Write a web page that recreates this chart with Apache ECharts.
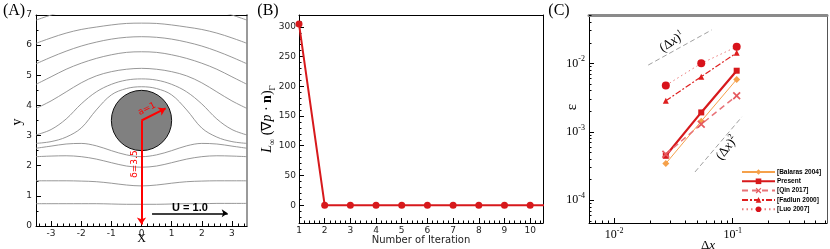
<!DOCTYPE html>
<html><head><meta charset="utf-8">
<script src="https://cdn.jsdelivr.net/npm/echarts@6/dist/echarts.min.js"></script>
<style>html,body{margin:0;padding:0;background:#fff}#c{width:830px;height:249px}</style>
</head><body><div id="c"></div>
<script>
// ---------- Panel A: streamlines around a cylinder near a wall ----------
const streamX = [-3.5,-3,-2.5,-2,-1.5,-1,-0.5,0,0.5,1,1.5,2,2.5,3,3.5];
const stream1  = [6.83,7.00,7.15,7.28,7.37,7.42,7.45,7.46,7.45,7.42,7.37,7.28,7.15,7.00,6.83];
const stream2  = [6.06,6.24,6.40,6.52,6.60,6.67,6.72,6.73,6.72,6.67,6.60,6.52,6.40,6.24,6.06];
const stream3  = [5.38,5.60,5.80,5.97,6.10,6.20,6.26,6.28,6.26,6.20,6.10,5.97,5.80,5.60,5.38];
const stream4  = [4.70,4.95,5.20,5.40,5.56,5.68,5.76,5.78,5.76,5.68,5.56,5.40,5.20,4.95,4.70];
const stream5  = [3.90,4.15,4.45,4.75,4.98,5.12,5.20,5.23,5.20,5.12,4.98,4.75,4.45,4.15,3.90];
const stream6  = [3.02,3.20,3.55,4.05,4.45,4.70,4.84,4.88,4.84,4.70,4.45,4.05,3.55,3.20,3.02];
const stream7  = [2.74,2.80,2.95,3.25,3.85,4.35,4.56,4.62,4.56,4.35,3.85,3.25,2.95,2.80,2.74];
const stream8  = [2.58,2.65,2.72,2.74,2.66,2.50,2.36,2.30,2.36,2.50,2.66,2.74,2.72,2.65,2.58];
const stream9  = [2.30,2.32,2.33,2.30,2.22,2.10,1.99,1.95,1.99,2.10,2.22,2.30,2.33,2.32,2.30];
const stream10 = [1.50,1.50,1.50,1.49,1.47,1.42,1.36,1.33,1.36,1.42,1.47,1.49,1.50,1.50,1.50];
const stream11 = [0.74,0.74,0.74,0.74,0.74,0.73,0.72,0.72,0.72,0.73,0.74,0.74,0.75,0.75,0.75];
const streams = [stream1,stream2,stream3,stream4,stream5,stream6,stream7,stream8,stream9,stream10,stream11];
const cylinder = [[0, 3.5, 1]];              // centre x, centre y, radius a
const radiusArrow = [[0, 3.5], [0.8, 3.9]];
const depthArrow  = [[0, 3.5], [0, 0.05]];
const flowArrow   = [[0.35, 0.42], [2.86, 0.42]];
const aXTicks = [-3,-2,-1,0,1,2,3];
const aYTicks = [0,1,2,3,4,5,6,7];

// ---------- Panel B: convergence ----------
const iterations = [1,2,3,4,5,6,7,8,9,10,11];
const residual   = [305,0,0,0,0,0,0,0,0,0,0];
const bXTicks = [1,2,3,4,5,6,7,8,9,10];
const bYTicks = [0,50,100,150,200,250,300];

// ---------- Panel C: error vs grid size ----------
const dx      = [0.0273, 0.0543, 0.108];
const balaras = [3.44e-4, 1.43e-3, 5.83e-3];
const present = [4.46e-4, 1.92e-3, 7.81e-3];
const qin     = [4.71e-4, 1.29e-3, 3.37e-3];
const fadlun  = [2.84e-3, 6.38e-3, 1.43e-2];
const luo     = [4.76e-3, 1.00e-2, 1.75e-2];
const slope1X = [0.0194, 0.0665], slope1Y = [0.00944, 0.0308];
const slope2X = [0.0481, 0.1194], slope2Y = [2.59e-4, 1.65e-3];
const cXTicks = [0.01, 0.1];
const cYTicks = [1e-4, 1e-3, 1e-2];
const legendNames = ['[Balaras 2004]','Present','[Qin 2017]','[Fadlun 2000]','[Luo 2007]'];

// minor tick positions
function range(a, b, s) { const r = []; for (let v = a; v <= b + 1e-9; v += s) r.push(+v.toFixed(6)); return r; }
const aXMinor = range(-3.4, 3.4, 0.2).filter(v => Math.abs(v - Math.round(v)) > 1e-6);
const aYMinor = range(0.5, 6.5, 1);
const bXMinor = range(1.2, 10.4, 0.2).filter(v => Math.abs(v - Math.round(v)) > 1e-6);
const bYMinor = range(-30, 320, 10).filter(v => v % 50 !== 0);
const cXMinor = [0.007,0.008,0.009,0.02,0.03,0.04,0.05,0.06,0.07,0.08,0.09,0.2,0.3,0.4,0.5,0.6];
const cYMinor = [5e-5,6e-5,7e-5,8e-5,9e-5,2e-4,3e-4,4e-4,5e-4,6e-4,7e-4,8e-4,9e-4,2e-3,3e-3,4e-3,5e-3,6e-3,7e-3,8e-3,9e-3,0.02,0.03,0.04,0.05];

const SANS = 'DejaVu Sans';
const SERIF = 'Liberation Serif';
const RED = '#d7191c';

function majorAxis(grid, type, min, max, ticks, pos, labelOpt, extra) {
  return Object.assign({
    gridIndex: grid, type, min, max, position: pos, nameMoveOverlap: false,
    splitLine: {show: false},
    axisLine: {show: true, onZero: false, lineStyle: {color: '#000', width: 1}},
    axisTick: {show: true, inside: true, length: 5, customValues: ticks, lineStyle: {color: '#000'}},
    axisLabel: Object.assign({show: true, customValues: ticks, fontFamily: SANS, fontSize: 9, color: '#222', margin: 4}, labelOpt || {})
  }, extra || {});
}
function minorAxis(grid, type, min, max, ticks, pos) {
  return {
    gridIndex: grid, type, min, max, position: pos,
    splitLine: {show: false},
    axisLine: {show: false, onZero: false},
    axisTick: {show: true, inside: true, length: 2.5, customValues: ticks, lineStyle: {color: '#000'}},
    axisLabel: {show: false}
  };
}
function borderAxis(grid, type, min, max, pos, color, width) {
  return {
    gridIndex: grid, type, min, max, position: pos,
    splitLine: {show: false},
    axisLine: {show: true, onZero: false, lineStyle: {color, width}},
    axisTick: {show: false}, axisLabel: {show: false}
  };
}
const logLabel = {
  formatter: v => '{b|10}{s|' + Math.round(Math.log10(v)) + '}',
  rich: {
    b: {fontFamily: SERIF, fontSize: 12, color: '#000', lineHeight: 16, verticalAlign: 'middle'},
    s: {fontFamily: SERIF, fontSize: 8, color: '#000', lineHeight: 8, verticalAlign: 'top'}
  },
  fontFamily: SERIF, fontSize: 12, color: '#000'
};

const xAxis = [
  majorAxis(0, 'value', -3.5, 3.5, aXTicks, 'bottom', {margin: 3},
    {name: 'X', nameLocation: 'middle', nameGap: 7, nameTextStyle: {fontFamily: SERIF, fontSize: 12, color: '#000'}}),
  minorAxis(0, 'value', -3.5, 3.5, aXMinor, 'bottom'),
  borderAxis(0, 'value', -3.5, 3.5, 'top', '#000', 1),
  majorAxis(1, 'value', 1, 10.5, bXTicks, 'bottom', {margin: 3},
    {name: 'Number of Iteration', nameLocation: 'middle', nameGap: 12, nameTextStyle: {fontFamily: SANS, fontSize: 10, color: '#222'}}),
  minorAxis(1, 'value', 1, 10.5, bXMinor, 'bottom'),
  borderAxis(1, 'value', 1, 10.5, 'top', '#000', 1),
  majorAxis(2, 'log', 0.00615, 0.623, cXTicks, 'bottom', Object.assign({margin: 4}, logLabel),
    {name: '{r|Δ}{i|x}', nameLocation: 'middle', nameGap: 16,
     nameTextStyle: {rich: {r: {fontFamily: SERIF, fontSize: 13, color: '#000'}, i: {fontFamily: SERIF, fontStyle: 'italic', fontSize: 13, color: '#000'}}}}),
  minorAxis(2, 'log', 0.00615, 0.623, cXMinor, 'bottom'),
  borderAxis(2, 'log', 0.00615, 0.623, 'top', '#8a8a8a', 3)
];
const yAxis = [
  majorAxis(0, 'value', 0, 7, aYTicks, 'left', {margin: 4}),
  minorAxis(0, 'value', 0, 7, aYMinor, 'left'),
  borderAxis(0, 'value', 0, 7, 'right', '#9a9a9a', 2),
  majorAxis(1, 'value', -30, 320, bYTicks, 'left', {margin: 3},
    {name: '{i|L}{sub|∞} {r|(∇}{i|p}{r| · }{bd|n}{r|)}{sub|Γ}', nameLocation: 'middle', nameRotate: 90, nameGap: 22,
     nameTextStyle: {rich: {
       i: {fontFamily: SERIF, fontStyle: 'italic', fontSize: 14, color: '#000', lineHeight: 20, verticalAlign: 'middle'},
       r: {fontFamily: SERIF, fontSize: 14, color: '#000', lineHeight: 20, verticalAlign: 'middle'},
       bd: {fontFamily: SERIF, fontWeight: 'bold', fontSize: 14, color: '#000', lineHeight: 20, verticalAlign: 'middle'},
       sub: {fontFamily: SERIF, fontSize: 9, color: '#000', lineHeight: 9, verticalAlign: 'bottom'}
     }}}),
  minorAxis(1, 'value', -30, 320, bYMinor, 'left'),
  borderAxis(1, 'value', -30, 320, 'right', '#000', 1),
  majorAxis(2, 'log', 4.65e-5, 0.0509, cYTicks, 'left', Object.assign({margin: 4}, logLabel)),
  minorAxis(2, 'log', 4.65e-5, 0.0509, cYMinor, 'left'),
  borderAxis(2, 'log', 4.65e-5, 0.0509, 'right', '#555', 1)
];

const series = [];
streams.forEach((s, k) => {
  series.push({
    type: 'line', xAxisIndex: 0, yAxisIndex: 0, silent: true, showSymbol: false, symbol: 'none',
    smooth: 0.35, data: streamX.map((x, i) => [x, s[i]]),
    lineStyle: {color: '#8c8c8c', width: 0.9}, z: 2
  });
});
series.push({
  type: 'custom', xAxisIndex: 0, yAxisIndex: 0, silent: true, z: 3, data: cylinder,
  renderItem: (params, api) => {
    const c = api.coord([api.value(0), api.value(1)]);
    const s = api.size([api.value(2), api.value(2)]);
    return {type: 'circle', shape: {cx: c[0], cy: c[1], r: (s[0] + s[1]) / 2},
      style: {fill: '#808080', stroke: '#111', lineWidth: 1}};
  }
});
series.push({
  type: 'lines', coordinateSystem: 'cartesian2d', xAxisIndex: 0, yAxisIndex: 0, silent: true, z: 5,
  symbol: ['none', 'arrow'], symbolSize: 7,
  data: [{coords: radiusArrow}, {coords: depthArrow}],
  lineStyle: {color: '#ff0000', width: 2, opacity: 1}
});
series.push({
  type: 'lines', coordinateSystem: 'cartesian2d', xAxisIndex: 0, yAxisIndex: 0, silent: true, z: 5,
  symbol: ['none', 'arrow'], symbolSize: 6,
  data: [{coords: flowArrow}],
  lineStyle: {color: '#000', width: 1.5, opacity: 1}
});
// Panel B
series.push({
  type: 'line', xAxisIndex: 3, yAxisIndex: 3, data: iterations.map((x, i) => [x, residual[i]]),
  symbol: 'circle', symbolSize: 7, showAllSymbol: true,
  lineStyle: {color: RED, width: 2}, itemStyle: {color: RED}, z: 3
});
// Panel C
function cSeries(name, ys, color, lineColor, width, type, symbol, size) {
  return {
    name, type: 'line', xAxisIndex: 6, yAxisIndex: 6, data: dx.map((x, i) => [x, ys[i]]),
    symbol, symbolSize: size, showAllSymbol: true,
    lineStyle: {color: lineColor, width, type}, itemStyle: {color}, z: 4
  };
}
const xPath = 'path://M0,1.5 L1.5,0 L5,3.5 L8.5,0 L10,1.5 L6.5,5 L10,8.5 L8.5,10 L5,6.5 L1.5,10 L0,8.5 L3.5,5 Z';
series.push(cSeries(legendNames[0], balaras, '#f5a14b', '#f5a14b', 1, 'solid', 'diamond', 7));
series.push(cSeries(legendNames[1], present, RED, RED, 2.2, 'solid', 'rect', 6));
series.push(cSeries(legendNames[2], qin, '#e55a5f', '#e87378', 1.5, [6, 4], xPath, 8));
series.push(cSeries(legendNames[3], fadlun, '#de1e1e', '#de1e1e', 1.2, [6, 2, 2, 2], 'triangle', 6));
series.push(cSeries(legendNames[4], luo, '#d8131b', '#ec7c7c', 1, [1.5, 3], 'circle', 8));
[[slope1X, slope1Y], [slope2X, slope2Y]].forEach(([xs, ys]) => {
  series.push({
    type: 'line', xAxisIndex: 6, yAxisIndex: 6, silent: true, symbol: 'none',
    data: xs.map((x, i) => [x, ys[i]]),
    lineStyle: {color: '#a0a0a0', width: 1, type: [5, 3]}, z: 2
  });
});

function txt(x, y, text, font, fill, rot, extra) {
  return Object.assign({type: 'text', x, y, rotation: rot || 0, z: 10, silent: true,
    style: Object.assign({text, font, fill, align: 'center', verticalAlign: 'middle', textAlign: 'center', textVerticalAlign: 'middle'}, extra || {})});
}
const graphic = [
  txt(14, 11, '(A)', '16px "Liberation Serif"', '#000'),
  txt(268, 11, '(B)', '16px "Liberation Serif"', '#000'),
  txt(559, 11, '(C)', '16px "Liberation Serif"', '#000'),
  txt(17, 122, 'y', '14px "Liberation Serif"', '#000', Math.PI / 2),
  txt(572, 107, 'ε', '15px "Liberation Serif"', '#000', Math.PI / 2),
  txt(147, 109, 'a=1', '9px "DejaVu Sans"', '#ff0000', 27 * Math.PI / 180),
  txt(135, 164, 'δ=3.5', '9px "DejaVu Sans"', '#ff0000', Math.PI / 2),
  txt(190, 208, 'U = 1.0', 'bold 11px "Liberation Sans"', '#000'),
  txt(672, 42, '', '13px "Liberation Serif"', '#000', 33 * Math.PI / 180, {
    text: '{r|(Δ}{i|x}{r|)}{s|1}',
    rich: {r: {fontFamily: SERIF, fontSize: 13, fill: '#000', lineHeight: 16, verticalAlign: 'middle'},
           i: {fontFamily: SERIF, fontStyle: 'italic', fontSize: 13, fill: '#000', lineHeight: 16, verticalAlign: 'middle'},
           s: {fontFamily: SERIF, fontSize: 8, fill: '#000', lineHeight: 8, verticalAlign: 'top'}}
  }),
  txt(727, 148, '', '13px "Liberation Serif"', '#000', 52 * Math.PI / 180, {
    text: '{r|(Δ}{i|x}{r|)}{s|2}',
    rich: {r: {fontFamily: SERIF, fontSize: 13, fill: '#000', lineHeight: 16, verticalAlign: 'middle'},
           i: {fontFamily: SERIF, fontStyle: 'italic', fontSize: 13, fill: '#000', lineHeight: 16, verticalAlign: 'middle'},
           s: {fontFamily: SERIF, fontSize: 8, fill: '#000', lineHeight: 8, verticalAlign: 'top'}}
  })
];

const chart = echarts.init(document.getElementById('c'), null, {renderer: 'canvas'});
chart.setOption({
  animation: false,
  backgroundColor: '#fff',
  grid: [
    {left: 36, top: 15, width: 211, height: 211, outerBoundsMode: 'none', containLabel: false},
    {left: 299, top: 15, width: 244, height: 208, outerBoundsMode: 'none', containLabel: false},
    {left: 589, top: 15, width: 238, height: 208, outerBoundsMode: 'none', containLabel: false}
  ],
  xAxis, yAxis, series, graphic,
  legend: {
    data: legendNames, orient: 'vertical', left: 739, top: 166.5,
    itemWidth: 33, itemHeight: 7, itemGap: 2.3, padding: 2,
    textStyle: {fontFamily: 'Liberation Sans', fontSize: 6.5, fontWeight: 'bold', color: '#000', padding: [0, 0, 0, -3]},
    selectedMode: false
  }
});
</script></body></html>
